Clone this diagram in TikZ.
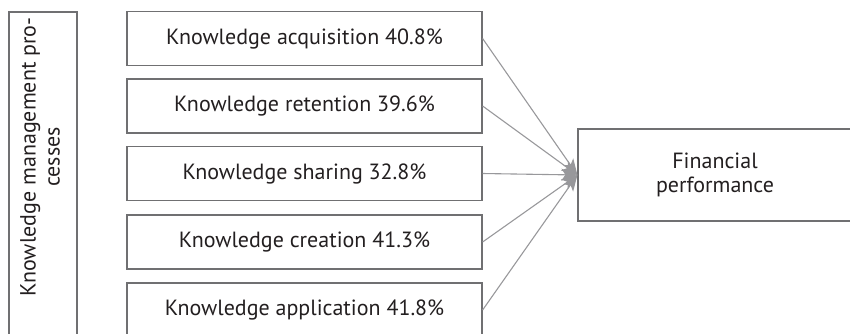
\documentclass[tikz,border=0pt]{standalone}
\usepackage{fontspec}
\setmainfont{PT Sans}
\usetikzlibrary{arrows.meta}
\definecolor{boxgray}{RGB}{112,112,114}
\definecolor{arrowgray}{RGB}{152,152,155}
\definecolor{txt}{RGB}{35,31,32}
\begin{document}
\begin{tikzpicture}[x=1pt,y=-1pt,
  kfont/.style={font=\fontsize{22}{24}\selectfont},
  kbox/.style={draw=boxgray, line width=1.2pt, minimum width=355pt, minimum height=54pt, inner sep=0pt, text=txt, kfont},
  arr/.style={draw=arrowgray, line width=1.1pt, -{Stealth[length=16pt,width=12pt,inset=4pt]}}]
\useasboundingbox (0,0) rectangle (850,333);
\node[draw=boxgray, line width=1.2pt, minimum width=68pt, minimum height=333pt, inner sep=0pt] (side) at (43,178.5) {};
\node[text=txt, kfont, rotate=90, align=center, inner sep=0pt] (sidetext) at (40,157) {Knowledge management pro-\\cesses};
\node[kbox] (b1) at (304.5,38.5) {Knowledge acquisition 40.8\%};
\node[kbox] (b2) at (304.5,106) {Knowledge retention 39.6\%};
\node[kbox] (b3) at (304.5,173.5) {Knowledge sharing 32.8\%};
\node[kbox] (b4) at (304.5,242) {Knowledge creation 41.3\%};
\node[kbox] (b5) at (304.5,310) {Knowledge application 41.8\%};
\node[draw=boxgray, line width=1.2pt, minimum width=274pt, minimum height=92pt, inner sep=0pt, text=txt, kfont, align=center] (fin) at (715,175) {Financial\\performance};
\foreach \b in {b1,b2,b3,b4,b5} \draw[arr] (\b.east) -- (fin.west);
\end{tikzpicture}
\end{document}
